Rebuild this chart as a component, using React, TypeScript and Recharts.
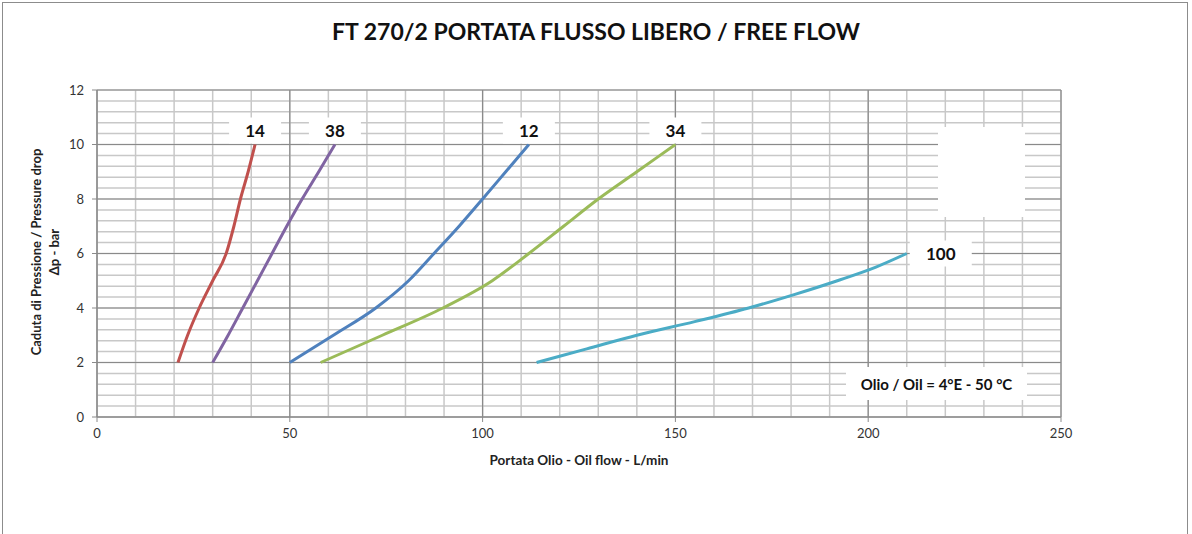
import React from "react";
import {
  LineChart,
  Line,
  XAxis,
  YAxis,
  CartesianGrid,
  ReferenceLine,
  LabelList,
} from "recharts";

// axis ticks
const xTicks = [0, 50, 100, 150, 200, 250];
const yTicks = [0, 2, 4, 6, 8, 10, 12];

// curves (L/min, bar)
const curve14 = [
  { x: 21, y: 2 },
  { x: 23.5, y: 3 },
  { x: 26.5, y: 4 },
  { x: 30, y: 5 },
  { x: 33.5, y: 6 },
  { x: 35.5, y: 7 },
  { x: 37.2, y: 8 },
  { x: 39.2, y: 9 },
  { x: 41, y: 10 },
];
const curve38 = [
  { x: 30, y: 2 },
  { x: 34, y: 3 },
  { x: 37.8, y: 4 },
  { x: 41.6, y: 5 },
  { x: 45.4, y: 6 },
  { x: 49.2, y: 7 },
  { x: 53.2, y: 8 },
  { x: 57.5, y: 9 },
  { x: 61.7, y: 10 },
];
const curve12 = [
  { x: 50, y: 2 },
  { x: 61.3, y: 3 },
  { x: 72.3, y: 4 },
  { x: 80.8, y: 5 },
  { x: 87.4, y: 6 },
  { x: 93.9, y: 7 },
  { x: 100, y: 8 },
  { x: 106, y: 9 },
  { x: 112, y: 10 },
];
const curve34 = [
  { x: 58, y: 2 },
  { x: 74, y: 3 },
  { x: 89.7, y: 4 },
  { x: 102.5, y: 5 },
  { x: 112, y: 6 },
  { x: 121, y: 7 },
  { x: 130, y: 8 },
  { x: 140, y: 9 },
  { x: 150, y: 10 },
];
const curve100 = [
  { x: 114, y: 2 },
  { x: 127, y: 2.5 },
  { x: 140, y: 3 },
  { x: 155, y: 3.5 },
  { x: 169, y: 4 },
  { x: 181, y: 4.5 },
  { x: 192, y: 5 },
  { x: 202, y: 5.5 },
  { x: 210, y: 6 },
];

const series = [
  { name: "14", color: "#C0504D", data: curve14, side: "top" },
  { name: "38", color: "#8064A2", data: curve38, side: "top" },
  { name: "12", color: "#4F81BD", data: curve12, side: "top" },
  { name: "34", color: "#9BBB59", data: curve34, side: "top" },
  { name: "100", color: "#4BACC6", data: curve100, side: "right" },
];

// minor gridlines: every 10 L/min and every 0.4 bar
const minorX: number[] = [];
for (let v = 0; v <= 250; v += 10) minorX.push(v);
const minorY: number[] = [];
for (let i = 0; i <= 30; i++) minorY.push(Math.round(i * 4) / 10);

const FONT = "Lato, 'Open Sans', sans-serif";

function renderEnd(p: any, s: any) {
  if (p.index !== s.data.length - 1) return null;
  const x = Number(p.x);
  const y = Number(p.y);
  let cx = x;
  let cy = y - 14;
  let w = 52;
  if (s.side === "right") {
    w = 62;
    cx = x + 3 + w / 2;
    cy = y;
  }
  return (
    <g key={"lbl" + s.name}>
      <rect x={cx - w / 2} y={cy - 13} width={w} height={26} fill="#fff" />
      <text
        x={cx}
        y={cy}
        textAnchor="middle"
        dominantBaseline="central"
        fontFamily={FONT}
        fontWeight={700}
        fontSize={17}
        fill="#111"
      >
        {s.name}
      </text>
    </g>
  );
}

const YLabel = () => {
  const cy = 252;
  return (
    <g>
      <text
        x={36}
        y={cy}
        transform={`rotate(-90, 36, ${cy})`}
        textAnchor="middle"
        dominantBaseline="central"
        fontFamily={FONT}
        fontWeight={700}
        fontSize={13}
        fill="#222"
      >
        Caduta di Pressione / Pressure drop
      </text>
      <text
        x={54}
        y={cy}
        transform={`rotate(-90, 54, ${cy})`}
        textAnchor="middle"
        dominantBaseline="central"
        fontFamily={FONT}
        fontWeight={700}
        fontSize={13}
        fill="#222"
      >
        Δp - bar
      </text>
    </g>
  );
};

export default function App() {
  return (
    <div
      style={{
        position: "fixed",
        left: 0,
        top: 0,
        width: 1192,
        height: 534,
        background: "#fff",
        overflow: "hidden",
        fontFamily: FONT,
      }}
    >
      <div
        style={{
          position: "absolute",
          left: 2,
          top: 2,
          width: 1184,
          height: 560,
          border: "1px solid #8c8c8c",
        }}
      />
      <div
        style={{
          position: "absolute",
          left: 0,
          width: 1192,
          top: 17,
          textAlign: "center",
          fontWeight: 700,
          fontSize: 23,
          color: "#111",
        }}
      >
        FT 270/2 PORTATA FLUSSO LIBERO / FREE FLOW
      </div>
      <div style={{ position: "absolute", left: 0, top: 0 }}>
        <LineChart
          width={1192}
          height={534}
          margin={{ top: 90, right: 131, bottom: 87, left: 57 }}
        >
          <CartesianGrid
            horizontal={false}
            verticalValues={minorX}
            stroke="#c8c8c8"
            strokeWidth={1.5}
          />
          {minorY.map((v) => (
            <ReferenceLine key={"my" + v} y={v} stroke="#c8c8c8" strokeWidth={1.5} />
          ))}
          {xTicks.map((v) => (
            <ReferenceLine key={"vx" + v} x={v} stroke="#8a8a8a" strokeWidth={1.2} />
          ))}
          {yTicks.map((v) => (
            <ReferenceLine key={"hy" + v} y={v} stroke="#8a8a8a" strokeWidth={1.2} />
          ))}
          <XAxis
            type="number"
            dataKey="x"
            domain={[0, 250]}
            ticks={xTicks}
            height={30}
            tickSize={5}
            tickMargin={7}
            stroke="#8a8a8a"
            tick={{ fill: "#333", fontSize: 13, fontFamily: FONT }}
            label={{
              value: "Portata Olio - Oil flow -  L/min",
              position: "insideBottom",
              offset: -18,
              style: { fontWeight: 700, fontSize: 13.5, fill: "#222", fontFamily: FONT },
            }}
          />
          <YAxis
            type="number"
            domain={[0, 12]}
            ticks={yTicks}
            width={40}
            tickSize={5}
            tickMargin={8}
            stroke="#8a8a8a"
            tick={{ fill: "#333", fontSize: 13, fontFamily: FONT }}
            label={<YLabel />}
          />
          {series.map((s) => (
            <Line
              key={s.name}
              data={s.data}
              dataKey="y"
              type="monotone"
              stroke={s.color}
              strokeWidth={3}
              dot={false}
              isAnimationActive={false}
            >
              <LabelList dataKey="y" content={(p: any) => renderEnd(p, s)} />
            </Line>
          ))}
        </LineChart>
      </div>
      <div
        style={{
          position: "absolute",
          left: 938,
          top: 127,
          width: 87,
          height: 90,
          background: "#fff",
        }}
      />
      <div
        style={{
          position: "absolute",
          left: 846,
          top: 367,
          width: 181,
          height: 33,
          background: "#fff",
          display: "flex",
          alignItems: "center",
          justifyContent: "center",
          fontSize: 15,
          fontWeight: 700,
          color: "#111",
        }}
      >
        Olio / Oil = 4°E - 50 °C
      </div>
    </div>
  );
}
